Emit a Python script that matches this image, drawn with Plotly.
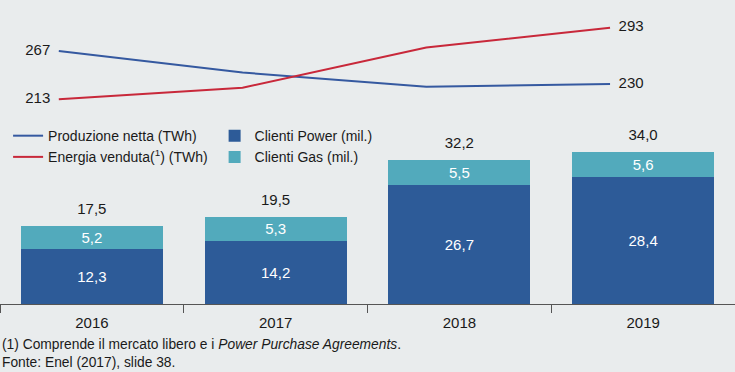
import plotly.graph_objects as go

years = ["2016", "2017", "2018", "2019"]
clienti_power = [12.3, 14.2, 26.7, 28.4]
clienti_gas = [5.2, 5.3, 5.5, 5.6]
totali = [17.5, 19.5, 32.2, 34.0]
produzione_netta = [267, 243, 227, 230]
energia_venduta = [213, 226, 271, 293]

def it(v):
    return f"{v:.1f}".replace(".", ",")

BG = "#E9ECED"
C_POWER = "#2D5B98"
C_GAS = "#52AABC"
C_BLUE = "#3559A0"
C_RED = "#C8283A"
TXT = "#1a1a1a"
FONT = "Liberation Sans"
CLEAR = "rgba(0,0,0,0)"

fig = go.Figure()

fig.add_trace(go.Bar(
    x=years, y=clienti_power, name="Clienti Power (mil.)",
    marker=dict(color=C_POWER, line=dict(width=0)),
    text=[it(v) for v in clienti_power], textposition="inside",
    insidetextanchor="middle", textfont=dict(color="white", size=15, family=FONT),
    legend="legend2", hoverinfo="skip",
))
fig.add_trace(go.Bar(
    x=years, y=clienti_gas, name="Clienti Gas (mil.)",
    marker=dict(color=C_GAS, line=dict(width=0)),
    text=[it(v) for v in clienti_gas], textposition="inside",
    insidetextanchor="middle", textfont=dict(color="white", size=15, family=FONT),
    legend="legend2", hoverinfo="skip",
))
fig.add_trace(go.Scatter(
    x=years, y=totali, mode="markers+text", text=[it(v) for v in totali],
    marker=dict(size=11, color=CLEAR),
    textposition="top center", textfont=dict(color=TXT, size=15, family=FONT),
    showlegend=False, hoverinfo="skip", cliponaxis=False,
))

# lines: numeric overlay axis, points shifted left of category centres
xpos = [i - 0.18 for i in range(len(years))]

fig.add_trace(go.Scatter(
    x=xpos, y=produzione_netta, xaxis="x2", yaxis="y2",
    mode="lines", name="Produzione netta (TWh)",
    line=dict(color=C_BLUE, width=2),
    legend="legend", hoverinfo="skip",
))
fig.add_trace(go.Scatter(
    x=xpos, y=energia_venduta, xaxis="x2", yaxis="y2",
    mode="lines", name="Energia venduta(<sup>1</sup>) (TWh)",
    line=dict(color=C_RED, width=2),
    legend="legend", hoverinfo="skip",
))

# end-point value labels
for series in (produzione_netta, energia_venduta):
    fig.add_trace(go.Scatter(
        x=[xpos[0], xpos[-1]], y=[series[0], series[-1]], xaxis="x2", yaxis="y2",
        mode="markers+text", text=[str(series[0]), str(series[-1])],
        marker=dict(size=12, color=CLEAR),
        textposition=["middle left", "middle right"],
        textfont=dict(color=TXT, size=15, family=FONT),
        showlegend=False, hoverinfo="skip", cliponaxis=False,
    ))

fig.update_layout(
    width=735, height=372,
    margin=dict(l=0, r=0, t=0, b=68),
    paper_bgcolor=BG, plot_bgcolor=BG,
    barmode="stack", bargap=0.227,
    font=dict(family=FONT, color=TXT, size=14),
    xaxis=dict(
        type="category", range=[-0.5, 3.5], showgrid=False, zeroline=False,
        showline=True, linecolor="#555555", linewidth=1,
        ticks="outside", tickson="boundaries", ticklen=8, tickcolor="#555555",
        ticklabelstandoff=5,
        tickfont=dict(size=15, color=TXT, family=FONT), fixedrange=True,
    ),
    xaxis2=dict(
        overlaying="x", range=[-0.5, 3.5], visible=False, fixedrange=True,
    ),
    yaxis=dict(range=[0, 68], visible=False, fixedrange=True),
    yaxis2=dict(overlaying="y", range=[-15.7, 324], visible=False, fixedrange=True),
    legend=dict(
        x=0.011, y=0.605, xanchor="left", yanchor="top", orientation="v",
        bgcolor=CLEAR, font=dict(size=14, color=TXT, family=FONT),
        itemwidth=30, tracegroupgap=0,
    ),
    legend2=dict(
        x=0.292, y=0.605, xanchor="left", yanchor="top", orientation="v",
        bgcolor=CLEAR, font=dict(size=14, color=TXT, family=FONT),
        itemwidth=30, traceorder="normal",
    ),
    annotations=[
        dict(
            text="(1) Comprende il mercato libero e i <i>Power Purchase Agreements</i>.",
            xref="paper", yref="paper", x=0, y=-0.132, xanchor="left", yanchor="middle",
            showarrow=False, font=dict(size=13.8, color=TXT, family=FONT),
        ),
        dict(
            text="Fonte: Enel (2017), slide 38.",
            xref="paper", yref="paper", x=0, y=-0.191, xanchor="left", yanchor="middle",
            showarrow=False, font=dict(size=13.8, color=TXT, family=FONT),
        ),
    ],
)

fig.write_html(
    "out.html",
    config={"displayModeBar": False},
    post_script="document.body.style.margin='0';document.body.style.background='%s';" % BG,
)
